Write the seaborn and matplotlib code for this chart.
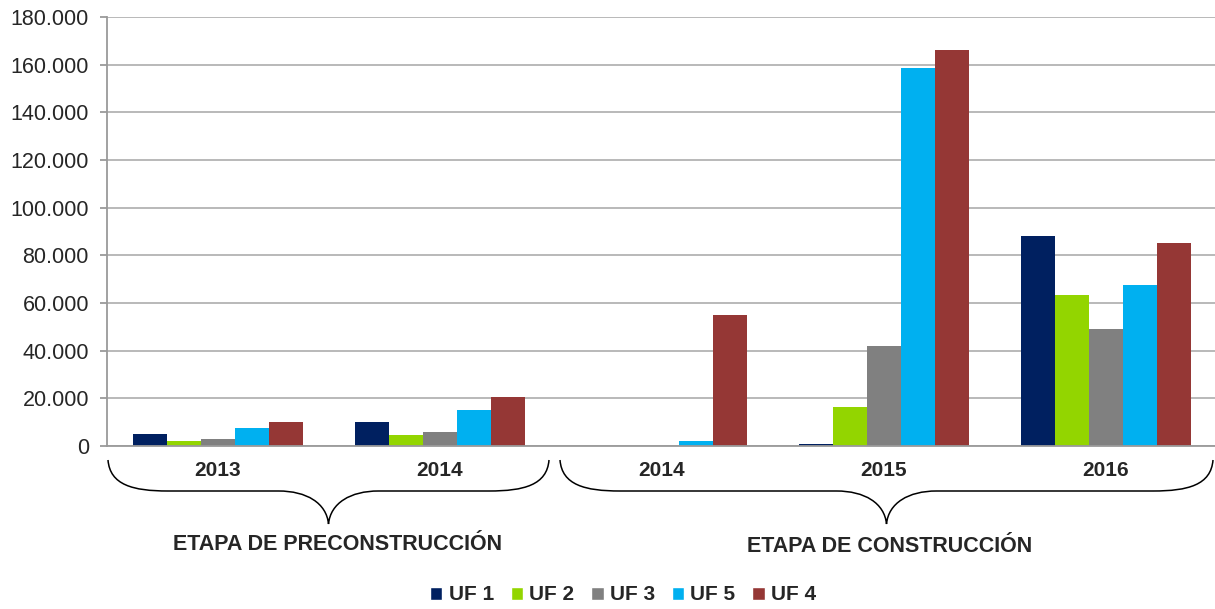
import numpy as np
import pandas as pd
import seaborn as sns
from matplotlib import pyplot as plt
from matplotlib.path import Path
from matplotlib.patches import PathPatch, Patch
from matplotlib.ticker import FuncFormatter, MultipleLocator

# data
groups = ['2013', '2014', '2014', '2015', '2016']
series = ['UF 1', 'UF 2', 'UF 3', 'UF 5', 'UF 4']
uf1 = [5000, 10000, 0, 700, 88000]
uf2 = [2000, 4500, 0, 16500, 63500]
uf3 = [3000, 6000, 0, 42000, 49000]
uf5 = [7500, 15000, 2000, 158500, 67500]
uf4 = [10000, 20500, 55000, 166000, 85000]
colors = ['#002060', '#93D500', '#808080', '#00B0F0', '#953735']
stages = ['ETAPA DE PRECONSTRUCCIÓN', 'ETAPA DE CONSTRUCCIÓN']

rows = []
for name, vals in zip(series, [uf1, uf2, uf3, uf5, uf4]):
    for i, v in enumerate(vals):
        rows.append({'grupo': i, 'serie': name, 'valor': v})
df = pd.DataFrame(rows)

sns.set_style('white')
plt.rcParams['font.family'] = ['Liberation Sans', 'DejaVu Sans']

W, H = 1215, 609
fig = plt.figure(figsize=(W / 100, H / 100), dpi=100)
ax_left, ax_bottom, ax_top, ax_right = 107, 446, 17, 1217
ax = fig.add_axes([ax_left / W, 1 - ax_bottom / H, (ax_right - ax_left) / W, (ax_bottom - ax_top) / H])

sns.barplot(data=df, x='grupo', y='valor', hue='serie', hue_order=series,
            palette=colors, width=0.77, gap=0, saturation=1, ax=ax,
            legend=False, linewidth=0)

ax.set_xlim(-0.5, 4.5)
ax.set_ylim(0, 180000)
ax.yaxis.set_major_locator(MultipleLocator(20000))
ax.yaxis.set_major_formatter(FuncFormatter(lambda v, p: f'{int(v):,}'.replace(',', '.')))
ax.grid(axis='y', color='#A6A6A6', linewidth=1.1)
ax.set_axisbelow(True)
for s in ['top', 'right']:
    ax.spines[s].set_visible(False)
for s in ['left', 'bottom']:
    ax.spines[s].set_color('#9A9A9A')
    ax.spines[s].set_linewidth(1.3)

ax.set_xticks(range(len(groups)))
ax.set_xticklabels(groups, fontsize=15, fontweight='bold')
ax.tick_params(axis='x', length=0, pad=11)
ax.set_xticks(np.arange(-0.5, 5, 1), minor=True)
ax.tick_params(axis='x', which='minor', length=6, color='#9A9A9A', width=1.3, direction='out')
ax.tick_params(axis='y', labelsize=15.5, length=5, color='#9A9A9A', width=1.3, pad=8, left=True)
ax.set_xlabel('')
ax.set_ylabel('')


def brace(x0, x1, ytop, ymid, ytip):
    # curly brace in pixel coords (y measured from top)
    xc = (x0 + x1) / 2
    pts = [
        (x0, ytop), (x0 + 2, ymid - 6), (x0 + 25, ymid), (x0 + 60, ymid),
        (xc - 50, ymid),
        (xc - 22, ymid), (xc - 2, ymid + 12), (xc, ytip),
        (xc + 2, ymid + 12), (xc + 22, ymid), (xc + 50, ymid),
        (x1 - 60, ymid),
        (x1 - 25, ymid), (x1 - 2, ymid - 6), (x1, ytop),
    ]
    pts = [(x / W, 1 - y / H) for x, y in pts]
    codes = [Path.MOVETO, Path.CURVE4, Path.CURVE4, Path.CURVE4,
             Path.LINETO,
             Path.CURVE4, Path.CURVE4, Path.CURVE4,
             Path.CURVE4, Path.CURVE4, Path.CURVE4,
             Path.LINETO,
             Path.CURVE4, Path.CURVE4, Path.CURVE4]
    fig.add_artist(PathPatch(Path(pts, codes), transform=fig.transFigure,
                             facecolor='none', edgecolor='black', linewidth=1.1))


brace(108, 549, 460, 491, 524)
brace(560, 1213, 460, 491, 524)

fig.text(338 / W, 1 - 545 / H, stages[0], ha='center', va='center', fontsize=15.5, fontweight='bold')
fig.text(890 / W, 1 - 547 / H, stages[1], ha='center', va='center', fontsize=15.5, fontweight='bold')

handles = [Patch(facecolor=c, label=s) for c, s in zip(colors, series)]
fig.legend(handles=handles, loc='center', bbox_to_anchor=(623 / W, 1 - 595 / H), ncol=5,
           frameon=False, prop={'size': 15, 'weight': 'bold'},
           handlelength=0.6, handleheight=0.6, handletextpad=0.3, columnspacing=0.8)

fig.savefig('out.png', dpi=100)
